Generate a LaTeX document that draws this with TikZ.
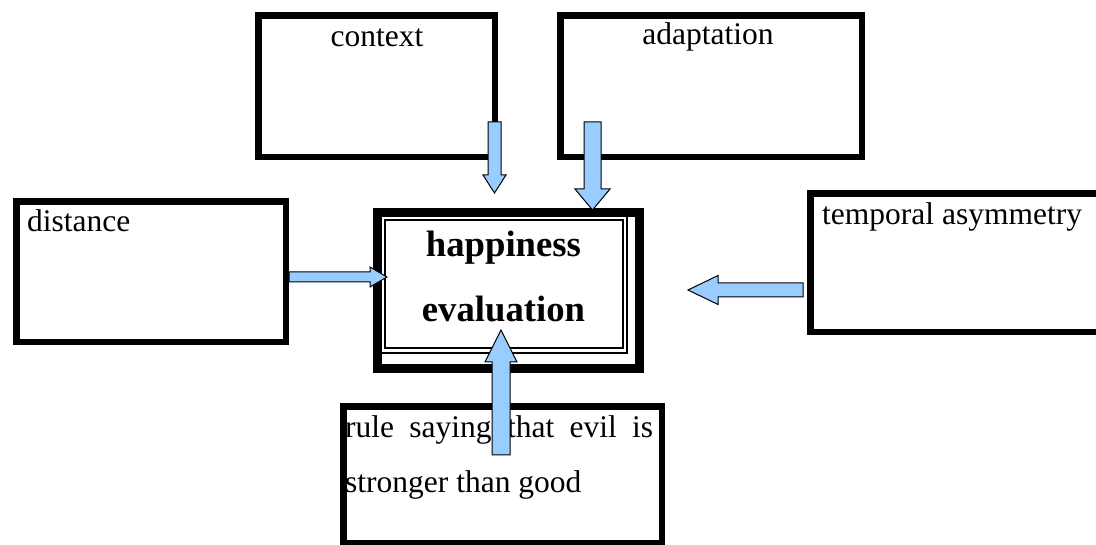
\documentclass[tikz,border=0pt]{standalone}
\usepackage{fontspec}
\setmainfont{Liberation Serif}
\usetikzlibrary{calc}
\definecolor{arrowblue}{HTML}{99CCFF}

\begin{document}
\begin{tikzpicture}[x=1pt, y=-1pt,
  factorbox/.style={draw, line width=6.5pt, inner sep=0pt, anchor=north west},
  factortext/.style={inner sep=0pt, font=\fontsize{31.5}{38}\selectfont},
  blockarr/.style={draw=black, line width=1pt, fill=arrowblue, line join=miter}]
\useasboundingbox (0,0) rectangle (1096,545);

% outer factors
\node[factorbox, minimum width=236.5pt, minimum height=141.5pt] (context) at (255.25,12.25) {};
\node[factorbox, minimum width=301.5pt, minimum height=141.5pt] (adapt) at (557.25,12.25) {};
\node[factorbox, minimum width=269.5pt, minimum height=140.5pt] (distance) at (13.25,198.25) {};
\node[factorbox, minimum width=320pt, minimum height=138.5pt] (temporal) at (807.25,190.25) {};
\node[factorbox, minimum width=318.5pt, minimum height=136.5pt] (rule) at (340.25,403.25) {};

\node[factortext, anchor=base] (contextlbl) at (377,47) {context};
\node[factortext, anchor=base] (adaptlbl) at (708,45) {adaptation};
\node[factortext, anchor=base west] (distancelbl) at (27,232) {distance};
\node[factortext, anchor=base west] (temporallbl) at (822,225) {temporal asymmetry};
\node[factortext, anchor=base west] (rulelbl) at (345,438) {\makebox[308pt][s]{rule saying that evil is}};
\node[factortext, anchor=base west] (rulelbl2) at (345,493) {stronger than good};

% central box
\node[draw, line width=9pt, inner sep=0pt, anchor=north west, minimum width=262pt, minimum height=156pt] (happy) at (372.5,208.5) {};
\draw[line width=1.5pt] (380,216) rectangle (627,353);
\draw[line width=2pt] (384.5,220.5) rectangle (622.5,348.5);
\node[inner sep=0pt, anchor=base, font=\fontsize{36.7}{44}\selectfont\bfseries] (happylbl) at (503.5,257) {happiness};
\node[inner sep=0pt, anchor=base, font=\fontsize{36.7}{44}\selectfont\bfseries] (evallbl) at (503.5,322) {evaluation};

% arrow ends
\coordinate (contextT) at (494.5,122);  \coordinate (contextH) at (494.5,193);
\coordinate (adaptT) at (592.5,122);    \coordinate (adaptH) at (592.5,210);
\coordinate (distanceT) at (289,277);   \coordinate (distanceH) at (387,277);
\coordinate (temporalT) at (803,290);   \coordinate (temporalH) at (688,290);
\coordinate (ruleT) at (501,455);       \coordinate (ruleH) at (501,330);

% block arrows: tail/tip/half shaft/half head/head length
\foreach \t/\h/\w/\a/\l in {contextT/contextH/6.5pt/11.5pt/18pt,
    adaptT/adaptH/8.5pt/17.5pt/21pt, distanceT/distanceH/5pt/10pt/17pt,
    temporalT/temporalH/7pt/14.5pt/30pt, ruleT/ruleH/9pt/16pt/32pt} {
  \coordinate (hb) at ($(\h)!\l!(\t)$);
  \draw[blockarr] ($(\t)!\w!90:(\h)$) -- ($(hb)!\w!90:(\h)$) -- ($(hb)!\a!90:(\h)$) -- (\h)
    -- ($(hb)!\a!-90:(\h)$) -- ($(hb)!\w!-90:(\h)$) -- ($(\t)!\w!-90:(\h)$) -- cycle;
}
\end{tikzpicture}
\end{document}
